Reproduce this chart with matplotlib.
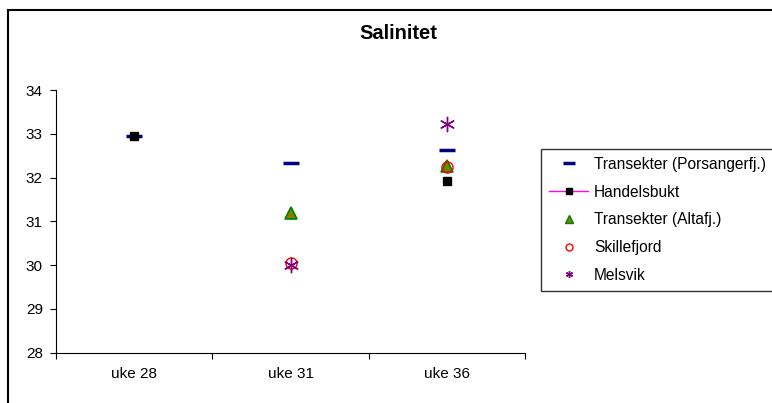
import numpy as np
import matplotlib
matplotlib.use("Agg")
from matplotlib import pyplot as plt
from matplotlib.lines import Line2D
from matplotlib.patches import Rectangle

plt.rcParams['font.family'] = ['Liberation Sans', 'DejaVu Sans']

weeks = ["uke 28", "uke 31", "uke 36"]
porsanger = [32.95, 32.34, 32.64]
handelsbukt = [32.95, np.nan, 31.93]
altafj = [np.nan, 31.2, 32.27]
skillefjord = [np.nan, 30.05, 32.25]
melsvik = [np.nan, 30.0, 33.22]

W, H = 772, 403
fig = plt.figure(figsize=(W / 100, H / 100), dpi=100)

# outer chart frame (cut off at right and bottom like the original)
fig.patches.append(Rectangle((8 / W, -0.05), 1.1, 1 - 10 / H + 0.05,
                             transform=fig.transFigure, fill=False,
                             edgecolor='black', linewidth=1.5))

ax = fig.add_axes([56 / W, 1 - 352.7 / H, (525 - 56) / W, (352.7 - 90) / H])
x = np.arange(len(weeks))

ax.plot(x, porsanger, ls='none', marker='_', ms=12, mew=2.5, color='#000080')
ax.plot(x, handelsbukt, color='#ff00ff', lw=1, marker='s', ms=6,
        mfc='black', mec='black')
ax.plot(x, altafj, ls='none', marker='^', ms=9, mfc='#808000',
        mec='#008000', mew=1.2)
ax.plot(x, skillefjord, ls='none', marker='o', ms=8, mfc='none',
        mec='red', mew=1)
ax.plot(x, melsvik, ls='none', marker=(6, 2, 0), ms=11, color='#800080', mew=1)

ax.set_xlim(-0.5, 2.5)
ax.set_ylim(28, 34)
ax.set_xticks([-0.5, 0.5, 1.5, 2.5])
ax.set_xticklabels([])
ax.set_xticks(x, minor=True)
ax.set_xticklabels(weeks, minor=True)
ax.tick_params(axis='x', which='minor', length=0, pad=10, labelsize=11)
ax.tick_params(axis='x', which='major', direction='out', length=4.5)
ax.set_yticks(range(28, 35))
ax.tick_params(axis='y', direction='out', length=4.5, pad=5, labelsize=11)
for s in ['top', 'right']:
    ax.spines[s].set_visible(False)

fig.text(398 / W, 1 - 33.5 / H, "Salinitet", ha='center', va='center',
         fontsize=14.5, fontweight='bold')

handles = [
    Line2D([], [], ls='none', marker='_', ms=8, mew=2.5, color='#000080'),
    Line2D([], [], color='#ff00ff', lw=1, marker='s', ms=5, mfc='black', mec='black'),
    Line2D([], [], ls='none', marker='^', ms=6, mfc='#808000', mec='#008000', mew=1),
    Line2D([], [], ls='none', marker='o', ms=5, mfc='none', mec='red', mew=1),
    Line2D([], [], ls='none', marker=(6, 2, 0), ms=5, color='#800080', mew=1),
]
labels = ["Transekter (Porsangerfj.)", "Handelsbukt", "Transekter (Altafj.)",
          "Skillefjord", "Melsvik"]
leg = fig.legend(handles, labels, loc='upper left',
                 bbox_to_anchor=(541 / W, 1 - 149 / H), fontsize=11.2,
                 frameon=True, fancybox=False, edgecolor='black',
                 handlelength=2.55, handletextpad=0.35, labelspacing=0.82,
                 borderpad=0.5, borderaxespad=0)
leg.get_frame().set_linewidth(1)

fig.savefig("out.png", dpi=100)
